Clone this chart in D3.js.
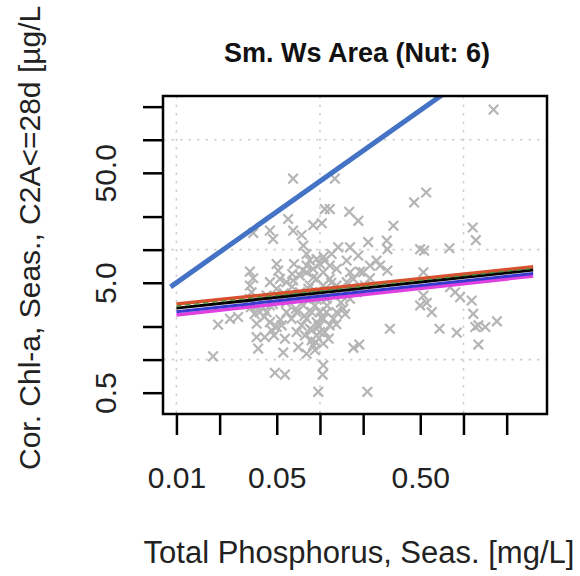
<!DOCTYPE html>
<html>
<head>
<meta charset="utf-8">
<script src="https://cdn.jsdelivr.net/npm/d3@7"></script>
<style>
  body { margin: 0; background: #fff; }
  svg { font-family: "Liberation Sans", Arial, sans-serif; }
</style>
</head>
<body>
<div id="plot"></div>
<script>
//Data
const tp = [1.62,0.065,0.127,0.55,0.453,0.117,0.108,0.160,0.185,0.060,0.0897,0.103,0.325,1.16,1.22,
	0.0448,0.065,0.0745,0.0472,0.0343,0.217,0.292,0.295,0.162,0.134,0.185,0.0766,0.0807,0.0948,0.108,
	0.1205,0.499,0.532,0.798,0.0499,0.0512,0.0659,0.0325,0.0343,0.0325,0.0334,0.248,0.262,0.295,0.0807,
	0.0897,0.1055,0.1306,0.162,0.190,0.0585,0.065,0.0499,0.526,0.807,0.875,0.948,1.14,0.526,0.555,
	0.499,0.601,1.17,1.27,1.42,1.71,1.21,0.0195,0.0236,0.0269,0.0362,0.0448,0.0499,0.0381,0.0362,
	0.0413,0.0478,0.0570,0.0371,0.0555,0.0687,0.0807,0.0948,0.1055,0.0851,0.1,0.117,0.1306,0.1455,0.307,
	0.681,0.898,1.27,0.0707,0.0897,0.1055,0.0807,0.0923,0.171,0.188,0.018,0.1055,0.1044,0.0485,0.057,
	0.0973,0.214,
	0.0425,0.0448,0.0541,0.0618,0.0725,0.0807,0.0897,0.1,0.111,0.124,0.1417,0.162,0.180,0.206,0.223,
	0.200,0.0585,0.0634,0.0745,0.0875,0.0923,0.111,0.124,0.1,0.0766,0.0687,0.0786,0.0948,0.108,0.0875,
	0.0541,0.0425,0.0325,0.0362,0.0851,0.0948,0.117,0.1055,0.1306,0.0725,0.0807,0.1,0.117,0.1535,0.171,
	0.223,0.1535,0.0526,0.0448,
	0.058,0.068,0.078,0.083,0.095,0.102,0.112,0.098,0.088,0.072,0.064,0.056,0.047,0.041,0.035,
	0.033,0.14,0.15,0.165,0.12,0.09,0.076,0.106,0.085,0.064,0.053,0.046,0.115,0.13,0.093];
const chl = [188,44.3,44.3,33.1,26.9,23.4,23.4,22.1,18.3,19.0,16.7,17.4,16.5,15.9,12.2,
	14.9,14.9,13.6,12.5,14.2,11.7,12.1,10.1,10.5,10.5,8.83,10.9,9.14,8.23,7.95,
	9.14,10.1,9.8,10.3,7.41,6.45,7.41,6.32,5.50,4.72,4.10,7.95,7.16,6.45,6.23,
	6.68,6.23,6.68,6.23,6.32,5.06,5.24,4.40,6.23,4.56,4.10,3.70,3.45,3.83,3.29,
	3.11,2.70,2.61,2.05,1.98,2.23,1.98,2.08,2.35,2.44,2.12,2.19,1.98,2.70,1.60,
	1.60,1.66,1.55,1.26,1.16,2.70,2.35,2.19,2.35,1.91,1.78,2.05,2.70,2.90,1.91,
	1.91,1.76,1.37,1.30,1.35,1.40,1.13,1.22,1.28,1.37,1.07,0.889,0.731,0.757,0.731,
	0.509,0.509,
	3.83,3.11,3.57,3.83,4.10,3.57,3.83,4.10,3.57,4.10,3.83,3.57,4.10,4.72,5.50,
	6.23,2.70,2.35,2.05,2.70,3.11,2.70,2.35,2.70,3.11,1.78,1.66,1.66,1.78,1.50,
	2.05,2.70,3.57,3.11,4.72,5.42,5.42,4.72,4.72,5.81,7.16,7.41,7.16,5.06,5.42,
	7.16,7.95,5.42,5.06,
	3.3,2.9,2.5,4.4,3.5,2.4,3.1,2.0,1.85,3.6,4.6,4.0,3.2,2.45,2.6,
	3.0,3.3,2.6,4.4,5.0,5.6,6.5,8.6,8.0,6.0,2.3,1.85,1.55,2.1,1.45];

//Fitted lines (end points)
const refX = [0.0091, 3.06];
const refY = [4.59, 986];
const fitX = [0.01, 3.06];
const fitRed = [3.20, 6.98];
const fitGreen = [3.07, 6.75];
const fitBlack = [2.94, 6.53];
const fitBlue = [2.73, 6.07];
const fitMagenta = [2.55, 5.75];

const xTicks = [0.01, 0.02, 0.05, 0.1, 0.2, 0.5, 1, 2];
const xLabels = ['0.01', '', '0.05', '', '', '0.50', '', ''];
const yTicks = [0.5, 1, 2, 5, 10, 20, 50, 100, 200];
const yLabels = ['0.5', '', '', '5.0', '', '', '50.0', '', ''];
const xGrid = [0.01, 0.1, 1];
const yGrid = [1, 10, 100];

//Layout
const W = 580, H = 576;
const m = {left: 163, top: 96};
const pw = 384, ph = 318;

const svg = d3.select('#plot').append('svg').attr('width', W).attr('height', H);
const g = svg.append('g').attr('transform', `translate(${m.left},${m.top})`);

const x = d3.scaleLog().domain([0.00806, 3.82]).range([0, pw]);
const y = d3.scaleLog().domain([0.32, 250]).range([ph, 0]);

g.append('clipPath').attr('id', 'clip')
	.append('rect').attr('width', pw).attr('height', ph);

//grid
g.selectAll('.vgrid').data(xGrid).enter().append('line')
	.attr('x1', d => x(d)).attr('x2', d => x(d))
	.attr('y1', 0).attr('y2', ph)
	.style('stroke', '#cfcfcf').style('stroke-width', 1.6)
	.style('stroke-dasharray', '2.5,6');
g.selectAll('.hgrid').data(yGrid).enter().append('line')
	.attr('x1', 0).attr('x2', pw)
	.attr('y1', d => y(d)).attr('y2', d => y(d))
	.style('stroke', '#cfcfcf').style('stroke-width', 1.6)
	.style('stroke-dasharray', '2.5,6');

//points
const pts = tp.map((d, i) => ({tp: d, chl: chl[i]}));
const s = 4.8;
g.append('g').selectAll('path').data(pts).enter().append('path')
	.attr('transform', d => `translate(${x(d.tp)},${y(d.chl)})`)
	.attr('d', `M${-s},${-s}L${s},${s}M${-s},${s}L${s},${-s}`)
	.style('stroke', '#b5b5b5').style('stroke-width', 2.2).style('fill', 'none');

//lines
const line = d3.line().x(d => x(d[0])).y(d => y(d[1]));
const lines = g.append('g').attr('clip-path', 'url(#clip)');
function addLine(xs, ys, color, width, dash){
	lines.append('path')
		.attr('d', line(xs.map((d, i) => [d, ys[i]])))
		.style('stroke', color).style('stroke-width', width)
		.style('fill', 'none')
		.style('stroke-dasharray', dash || null);
}
addLine(refX, refY, '#4472c4', 5);
addLine(fitX, fitMagenta, '#e040e0', 3.5);
addLine(fitX, fitBlue, '#3a3ad0', 3);
addLine(fitX, fitRed, '#d9502f', 3.5);
addLine(fitX, fitBlack, '#000', 3);
addLine(fitX, fitGreen, '#4f8f3a', 1.5, '5,4');

//box
g.append('rect').attr('width', pw).attr('height', ph)
	.style('fill', 'none').style('stroke', '#000').style('stroke-width', 2.5);

//axes
const xAxis = g.append('g').attr('transform', `translate(0,${ph})`)
	.call(d3.axisBottom(x).tickValues(xTicks).tickFormat((d, i) => xLabels[i]).tickSize(21).tickPadding(30));
const yAxis = g.append('g')
	.call(d3.axisLeft(y).tickValues(yTicks).tickFormat('').tickSize(20));
[xAxis, yAxis].forEach(a => {
	a.select('.domain').remove();
	a.selectAll('.tick line').style('stroke', '#000').style('stroke-width', 2.5);
});
xAxis.selectAll('text').style('font-size', '30px').style('fill', '#222').attr('dy', 0).attr('y', 74);

//y tick labels parallel to axis
yAxis.selectAll('.tick').append('text')
	.attr('transform', 'rotate(-90)')
	.attr('x', 0).attr('y', -m.left + 116)
	.attr('text-anchor', 'middle')
	.style('font-size', '30px').style('fill', '#222')
	.text((d, i) => yLabels[i]);

//titles
svg.append('text')
	.attr('x', m.left + pw / 2 + 2).attr('y', 62)
	.attr('text-anchor', 'middle')
	.style('font-size', '27px').style('font-weight', 'bold').style('fill', '#111')
	.text('Sm. Ws Area (Nut: 6)');
svg.append('text')
	.attr('x', 359).attr('y', 563)
	.attr('text-anchor', 'middle')
	.style('font-size', '31px').style('fill', '#222')
	.text('Total Phosphorus, Seas. [mg/L]');
svg.append('text')
	.attr('transform', 'translate(40,470) rotate(-90)')
	.attr('text-anchor', 'start')
	.style('font-size', '30px').style('fill', '#222')
	.text('Cor. Chl-a, Seas., C2A<=28d [µg/L');
</script>
</body>
</html>
